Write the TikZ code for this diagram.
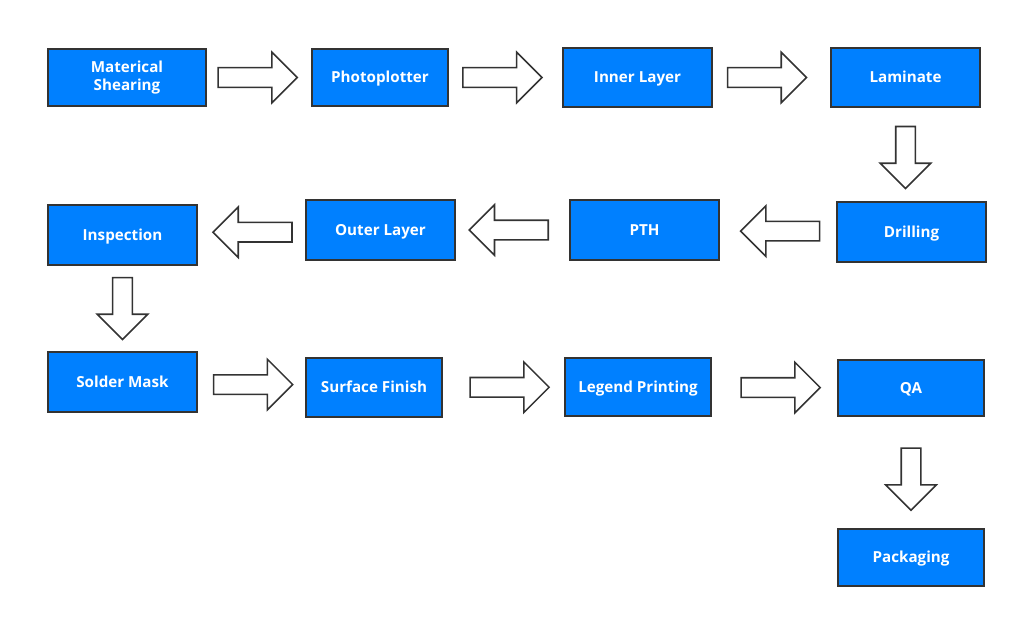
\documentclass[tikz,border=0pt]{standalone}
\usepackage{fontspec}
\setsansfont{Open Sans}
\usetikzlibrary{shapes.arrows,calc}
\definecolor{boxblue}{RGB}{0,128,255}
\definecolor{edgegray}{RGB}{51,51,51}

\begin{document}
\begin{tikzpicture}[x=0.025cm,y=-0.025cm,
        proc/.style={draw=edgegray,line width=1.4pt,fill=boxblue,text=white,
            font=\sffamily\bfseries\fontsize{10.8}{12.8}\selectfont,align=center,
            text height=7.6pt,text depth=0pt,
            minimum width=3.725cm,minimum height=1.475cm,inner sep=0pt},
        flow/.style={single arrow,draw=edgegray,fill=white,line width=1.1pt,
            minimum height=1.975cm,minimum width=1.225cm,inner xsep=0pt,inner ysep=0.225cm,
            single arrow head extend=0.3875cm},
        down/.style={flow,rotate=-90,minimum height=1.55cm}]
        \useasboundingbox (0,0) rectangle (1017,619);

        % first row, left to right
        \node[proc,text height=,text depth=,minimum width=3.95cm,minimum height=1.425cm] (shear) at (127,77.5) {Materical\\Shearing};
        \node[proc,minimum width=3.4cm,minimum height=1.425cm] (plot) at (380,77.5) {Photoplotter};
        \node[proc] (inner) at (637.5,77.5) {Inner Layer};
        \node[proc] (lam) at (905.5,77.5) {Laminate};

        % second row, right to left
        \node[proc,minimum height=1.5cm] (drill) at (911.5,232) {Drilling};
        \node[proc,minimum height=1.5cm] (pth) at (644.5,230) {PTH};
        \node[proc,minimum height=1.5cm] (outer) at (380.5,230) {Outer Layer};
        \node[proc,minimum height=1.5cm] (insp) at (122.5,235) {Inspection};

        % third row, left to right
        \node[proc,minimum height=1.5cm] (mask) at (122.5,382) {Solder Mask};
        \node[proc,minimum width=3.4cm] (finish) at (374,387.5) {Surface Finish};
        \node[proc,minimum width=3.65cm,minimum height=1.45cm] (legend) at (638,387) {Legend Printing};
        \node[proc,minimum width=3.65cm,minimum height=1.4cm] (qa) at (911,388) {QA};
        \node[proc,minimum width=3.65cm,minimum height=1.425cm] (pack) at (911,557.5) {Packaging};

        % block arrows
        \node[flow] (f1) at ($(shear.east)!.44!(plot.west)$) {};
        \node[flow] (f2) at ($(plot.east)!.43!(inner.west)$) {};
        \node[flow] (f3) at ($(inner.east)!.42!(lam.west)$) {};
        \node[down] (f4) at ($(lam.south)!.48!(lam.south|-drill.north)$) {};
        \node[flow,rotate=180] (f5) at ($(drill.west)!.44!(pth.east)$) {};
        \node[flow,rotate=180] (f6) at ($(pth.west)!.49!(outer.east)$) {};
        \node[flow,rotate=180] (f7) at ($(outer.west)!.445!(insp.east)$) {};
        \node[down,xshift=-0.1cm] (f8) at ($(insp.south)!.49!(mask.north)$) {};
        \node[flow] (f9) at ($(mask.east)!.47!(finish.west)$) {};
        \node[flow] (f10) at ($(finish.east)!.51!(legend.west)$) {};
        \node[flow] (f11) at ($(legend.east)!.51!(qa.west)$) {};
        \node[down,xshift=-0.15cm] (f12) at ($(qa.south)!.57!(pack.north)$) {};
\end{tikzpicture}
\end{document}
